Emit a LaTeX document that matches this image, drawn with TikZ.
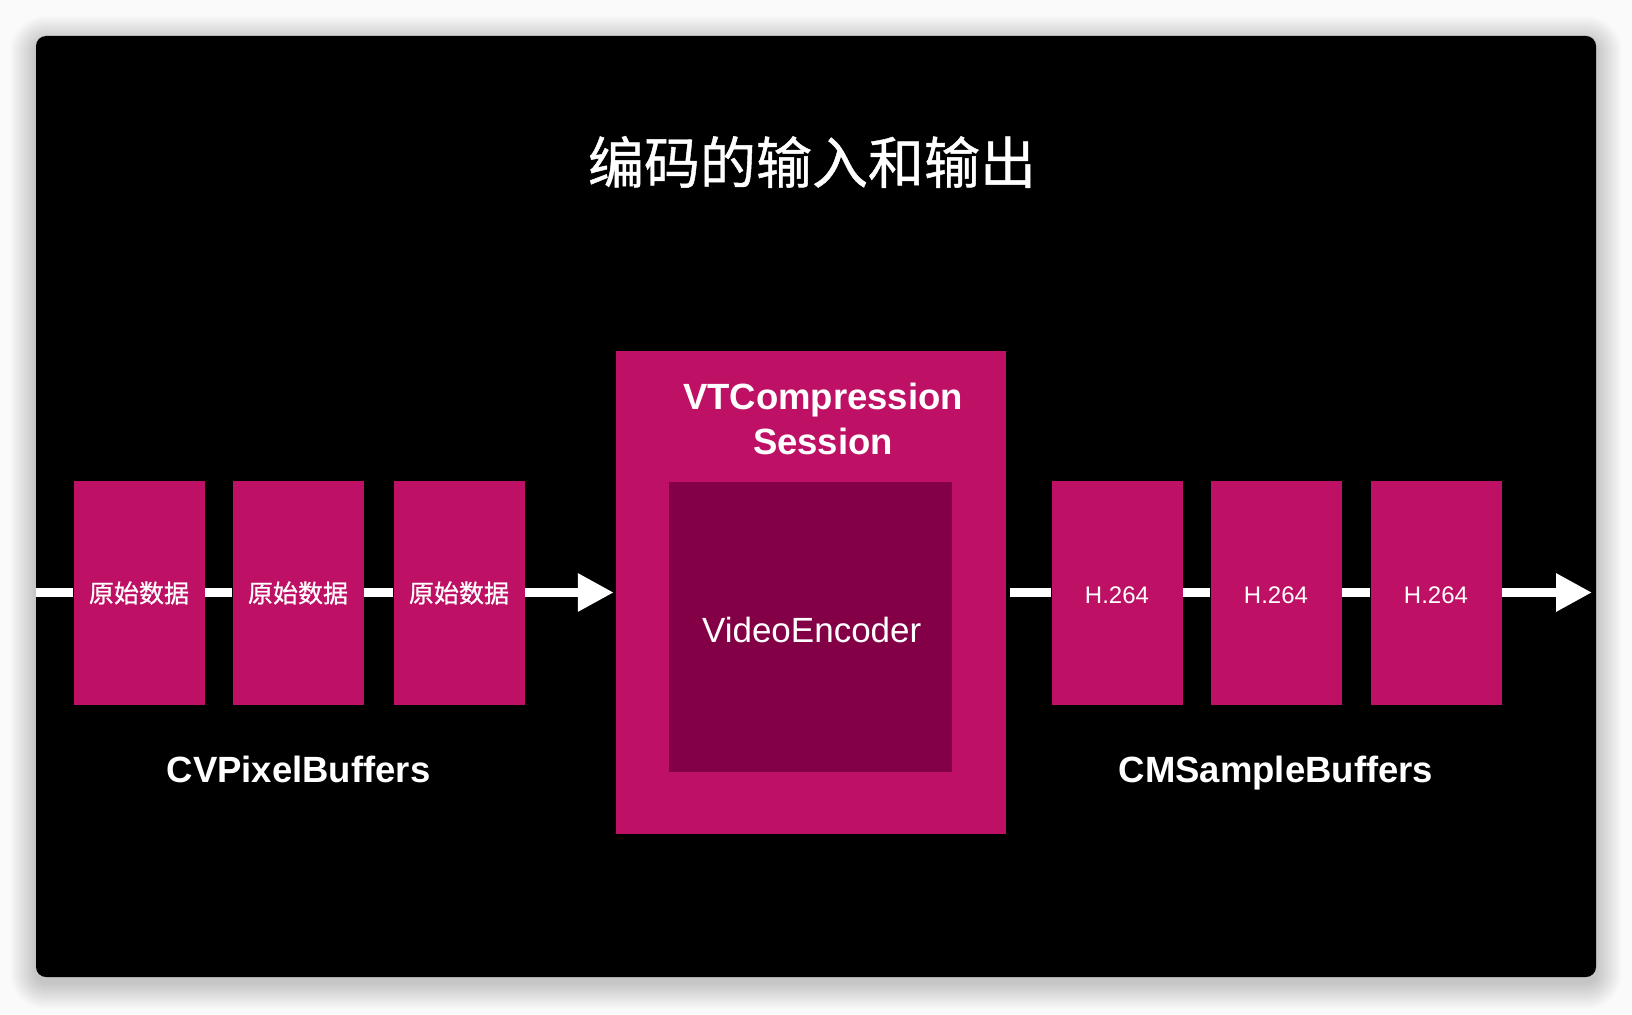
\documentclass[tikz,border=0pt]{standalone}
\usepackage{fontspec}
\setmainfont{Liberation Sans}
\newfontfamily\cjk{Noto Sans CJK SC}
\newfontfamily\cjkmed[FakeBold=0.8]{Noto Sans CJK SC}
\usetikzlibrary{arrows.meta}
\definecolor{mag}{RGB}{190,16,100}
\definecolor{deep}{RGB}{131,0,70}
\definecolor{paper}{RGB}{250,250,250}
\begin{document}
\begin{tikzpicture}[x=1pt,y=-1pt,
  buf/.style={fill=mag, minimum width=131pt, minimum height=224pt, inner sep=0pt, text=white},
  cjkfont/.style={font=\cjkmed\fontsize{25}{30}\selectfont},
  hfont/.style={font=\fontsize{24}{29}\selectfont, text height=20pt, text depth=0pt},
  boldlab/.style={text=white, inner sep=0pt, font=\bfseries\fontsize{36.5}{45}\selectfont},
  flow/.style={draw=white, line width=9pt},
  flowarrow/.style={flow, -{Triangle[length=36pt,width=36pt]}}]
% page and soft shadow
\useasboundingbox (0,0) rectangle (1632,1014);
\fill[paper] (0,0) rectangle (1632,1014);
\foreach \i in {1,...,26}{
  \fill[black, opacity=0.009, rounded corners={10pt+\i pt}]
    ({36-\i},{36-\i+6}) rectangle ({1596+\i},{977+\i+6});
}
\fill[black, rounded corners=10pt] (36,36) rectangle (1596,977);
% title
\node[text=white, inner sep=0pt, font=\cjkmed\fontsize{56}{60}\selectfont] (title) at (812,162) {编码的输入和输出};
% input buffers
\node[buf, cjkfont] (p1) at (139,593) {原始数据};
\node[buf, cjkfont] (p2) at (298,593) {原始数据};
\node[buf, cjkfont] (p3) at (459,593) {原始数据};
% session
\node[fill=mag, minimum width=390pt, minimum height=483pt, inner sep=0pt] (vt) at (811,592.5) {};
\node[fill=deep, minimum width=283pt, minimum height=290pt, inner sep=0pt] (enc) at (810.5,627) {};
\node[boldlab, align=center, anchor=center] (vtlab) at (823,419) {VTCompression\\Session};
\node[text=white, inner sep=0pt, anchor=base, font=\fontsize{35}{42}\selectfont] (enclab) at (811.7,642.5) {VideoEncoder};
% output buffers
\node[buf, hfont] (h1) at (1117,593) {H.264};
\node[buf, hfont] (h2) at (1276,593) {H.264};
\node[buf, hfont] (h3) at (1436,593) {H.264};
% labels
\node[boldlab, anchor=base] (cvlab) at (298.5,782) {CVPixelBuffers};
\node[boldlab, anchor=base] (cmlab) at (1276,782) {CMSampleBuffers};
% connectors
\coordinate (lstart) at (36,592.5);
\coordinate (rstart) at (1010,592.5);
\coordinate (rend) at (1592,592.5);
\draw[flow] (lstart) -- (p1.west |- lstart);
\draw[flow] (p1.east |- lstart) -- (p2.west |- lstart);
\draw[flow] (p2.east |- lstart) -- (p3.west |- lstart);
\draw[flowarrow, shorten >=2pt] (p3.east |- lstart) -- (vt.west |- lstart);
\draw[flow] (rstart) -- (h1.west |- rstart);
\draw[flow] (h1.east |- rstart) -- (h2.west |- rstart);
\draw[flow] (h2.east |- rstart) -- (h3.west |- rstart);
\draw[flowarrow] (h3.east |- rstart) -- (rend);
\end{tikzpicture}
\end{document}
